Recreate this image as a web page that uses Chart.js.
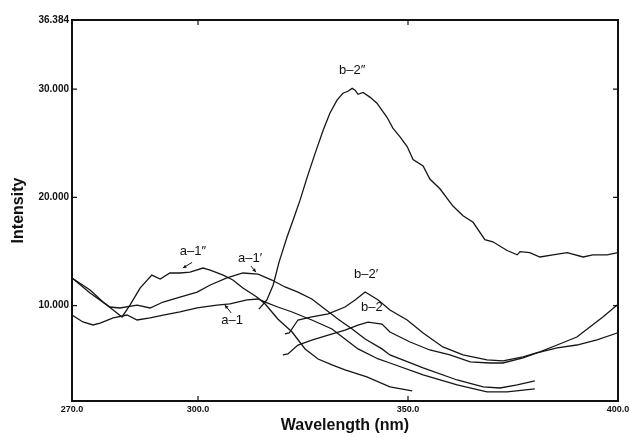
<!DOCTYPE html>
<html>
<head>
<meta charset="utf-8">
<script src="https://cdn.jsdelivr.net/npm/chart.js@4/dist/chart.umd.min.js"></script>
<style>
  html, body { margin: 0; padding: 0; background: #fff; }
  #wrap { width: 629px; height: 437px; }
</style>
</head>
<body>
<div id="wrap"><canvas id="spec"></canvas></div>
<script>
// axis limits and tick labels
const xMin = 270, xMax = 400;
const yMin = 1.2, yMax = 36.384;
const xTicks = [270, 300, 350, 400];
const yTicks = [10, 20, 30, 36.384];

// spectra (wavelength nm / intensity)
const a1Wl = [270, 272.6, 275.0, 276.7, 279.8, 283.1, 285.5, 288.6, 291.7, 295.7, 299.8, 304.5, 307.6, 311.7, 314.3, 316.0, 319.0, 322.4, 327.1, 331.9, 335.0, 338.1, 342.9, 345.7, 353.6, 361.7, 368.8, 373.6, 380.2];
const a1Int = [9.14, 8.50, 8.22, 8.40, 8.87, 9.14, 8.68, 8.87, 9.14, 9.42, 9.79, 10.06, 10.16, 10.53, 10.62, 10.34, 9.88, 9.42, 8.68, 7.85, 6.93, 6.01, 5.08, 4.71, 3.61, 2.69, 2.04, 2.04, 2.32];

const a1pWl = [270, 274.3, 279.0, 281.4, 285.5, 288.6, 291.7, 295.7, 299.8, 302.9, 306.9, 310.7, 314.3, 317.6, 320.7, 323.8, 327.1, 330.2, 333.3, 336.7, 339.8, 343.8, 345.7, 353.6, 361.7, 367.9, 371.9, 376.0, 380.2];
const a1pInt = [12.56, 11.17, 9.88, 9.79, 10.06, 9.79, 10.34, 10.80, 11.26, 11.91, 12.56, 13.02, 12.92, 12.37, 11.73, 11.26, 10.62, 9.69, 8.77, 7.85, 6.93, 6.01, 5.45, 4.25, 3.14, 2.50, 2.40, 2.68, 3.05];

const a1ppWl = [270, 274.3, 277.4, 280.7, 281.9, 283.8, 286.2, 289.0, 291.0, 293.3, 295.7, 298.1, 301.2, 302.9, 306.0, 308.3, 310.7, 314.0, 316.0, 319.0, 322.4, 325.5, 328.6, 331.9, 335.0, 340.2, 345.7, 351.0];
const a1ppInt = [12.56, 11.45, 10.34, 9.33, 8.96, 10.06, 11.63, 12.83, 12.46, 13.02, 13.02, 13.11, 13.48, 13.29, 12.83, 12.37, 11.63, 10.80, 10.16, 8.77, 7.57, 6.01, 5.08, 4.53, 4.07, 3.42, 2.50, 2.13];

const b2Wl = [320.2, 321.4, 323.8, 327.1, 331.0, 335.0, 338.1, 340.5, 343.8, 345.7, 350.5, 355.2, 360.0, 364.8, 369.5, 372.6, 377.4, 380.7, 385.5, 390.2, 395.0, 399.8];
const b2Int = [5.45, 5.54, 6.37, 6.83, 7.29, 7.75, 8.21, 8.49, 8.31, 7.57, 6.65, 5.91, 5.45, 4.81, 4.71, 4.71, 5.18, 5.64, 6.10, 6.37, 6.84, 7.48];

const b2pWl = [320.7, 321.7, 323.8, 327.1, 331.0, 335.0, 337.4, 339.8, 342.9, 345.7, 349.8, 353.6, 358.3, 363.1, 368.8, 372.6, 377.4, 381.4, 385.5, 390.2, 393.3, 396.4, 399.8];
const b2pInt = [7.39, 7.48, 8.68, 8.96, 9.24, 9.88, 10.53, 11.26, 10.53, 9.60, 8.68, 7.48, 6.19, 5.45, 4.99, 4.90, 5.27, 5.73, 6.37, 7.11, 8.03, 8.96, 10.06];

const b2ppWl = [314.5, 316.4, 317.9, 319.3, 321.2, 322.9, 324.3, 326.0, 327.9, 329.8, 331.4, 333.1, 334.5, 335.7, 336.7, 337.4, 338.1, 339.3, 341.0, 342.6, 345.0, 346.4, 348.1, 349.8, 351.2, 353.6, 355.2, 357.6, 360.7, 363.1, 365.5, 368.3, 370.2, 373.6, 376.0, 376.7, 379.0, 381.4, 384.5, 387.9, 391.7, 394.0, 397.4, 400.0];
const b2ppInt = [9.69, 10.53, 11.91, 14.03, 16.34, 18.19, 19.75, 21.87, 24.09, 26.21, 27.78, 28.98, 29.62, 29.80, 30.07, 29.90, 29.52, 29.70, 29.24, 28.70, 27.40, 26.40, 25.60, 24.70, 23.50, 22.90, 21.70, 20.80, 19.20, 18.30, 17.70, 16.10, 15.90, 15.10, 14.70, 15.00, 14.90, 14.50, 14.70, 14.90, 14.50, 14.70, 14.70, 14.90];

// curve labels (text, wavelength, intensity) and small arrows
const labelText = ['a\u20131\u2033', 'a\u20131\u2032', 'a\u20131', 'b\u20132\u2033', 'b\u20132\u2032', 'b\u20132'];
const labelX = [298.8, 312.4, 308.1, 336.7, 340.0, 341.4];
const labelY = [15.05, 14.4, 8.6, 31.74, 12.93, 9.87];
const arrowFrom = [[298.6, 14.0], [312.6, 13.66], [307.9, 9.33]];
const arrowTo = [[296.4, 13.48], [313.8, 13.1], [306.4, 10.06]];

function toPoints(xs, ys) {
  return xs.map((x, i) => ({ x: x, y: ys[i] }));
}

function spectrum(name, xs, ys) {
  return {
    label: name,
    data: toPoints(xs, ys),
    showLine: true,
    borderColor: '#161616',
    borderWidth: 1.3,
    pointRadius: 0,
    tension: 0,
    fill: false
  };
}

// frame round the plot and the little inward ticks
const frameTicks = {
  id: 'frameTicks',
  afterDraw(chart) {
    const { ctx, chartArea: a, scales } = chart;
    ctx.save();
    ctx.strokeStyle = '#111';
    ctx.lineWidth = 2;
    ctx.strokeRect(a.left, a.top, a.right - a.left, a.bottom - a.top);
    ctx.lineWidth = 1.2;
    ctx.beginPath();
    xTicks.slice(1, -1).forEach(v => {
      const px = scales.x.getPixelForValue(v);
      ctx.moveTo(px, a.bottom); ctx.lineTo(px, a.bottom - 5);
      ctx.moveTo(px, a.top); ctx.lineTo(px, a.top + 5);
    });
    yTicks.slice(0, -1).forEach(v => {
      const py = scales.y.getPixelForValue(v);
      ctx.moveTo(a.left, py); ctx.lineTo(a.left + 5, py);
      ctx.moveTo(a.right, py); ctx.lineTo(a.right - 5, py);
    });
    ctx.stroke();
    ctx.restore();
  }
};

const curveLabels = {
  id: 'curveLabels',
  afterDatasetsDraw(chart) {
    const { ctx, scales } = chart;
    ctx.save();
    ctx.fillStyle = '#111';
    ctx.font = '13px "Liberation Sans", Arial, sans-serif';
    ctx.textAlign = 'center';
    ctx.textBaseline = 'middle';
    labelText.forEach((t, i) => {
      ctx.fillText(t, scales.x.getPixelForValue(labelX[i]), scales.y.getPixelForValue(labelY[i]));
    });
    ctx.strokeStyle = '#111';
    ctx.lineWidth = 1;
    arrowFrom.forEach((f, i) => {
      const x0 = scales.x.getPixelForValue(f[0]), y0 = scales.y.getPixelForValue(f[1]);
      const x1 = scales.x.getPixelForValue(arrowTo[i][0]), y1 = scales.y.getPixelForValue(arrowTo[i][1]);
      const ang = Math.atan2(y1 - y0, x1 - x0);
      ctx.beginPath();
      ctx.moveTo(x0, y0); ctx.lineTo(x1, y1);
      ctx.stroke();
      ctx.beginPath();
      ctx.moveTo(x1, y1);
      ctx.lineTo(x1 - 4 * Math.cos(ang - 0.45), y1 - 4 * Math.sin(ang - 0.45));
      ctx.lineTo(x1 - 4 * Math.cos(ang + 0.45), y1 - 4 * Math.sin(ang + 0.45));
      ctx.closePath();
      ctx.fill();
    });
    ctx.restore();
  }
};

const tickFont = { family: '"Liberation Sans", Arial, sans-serif', weight: 'bold' };

new Chart(document.getElementById('spec'), {
  type: 'scatter',
  data: {
    datasets: [
      spectrum('a-1', a1Wl, a1Int),
      spectrum("a-1'", a1pWl, a1pInt),
      spectrum("a-1''", a1ppWl, a1ppInt),
      spectrum('b-2', b2Wl, b2Int),
      spectrum("b-2'", b2pWl, b2pInt),
      spectrum("b-2''", b2ppWl, b2ppInt)
    ]
  },
  options: {
    responsive: true,
    maintainAspectRatio: false,
    animation: false,
    layout: { padding: { top: 20, right: 11, left: 0, bottom: 0 } },
    plugins: {
      legend: { display: false },
      tooltip: { enabled: false }
    },
    scales: {
      x: {
        type: 'linear',
        min: xMin,
        max: xMax,
        afterBuildTicks: s => { s.ticks = xTicks.map(v => ({ value: v })); },
        afterFit: s => { s.height = 36; s.paddingRight = 0; s.paddingLeft = 0; },
        grid: { display: false, drawTicks: false },
        border: { display: false },
        ticks: {
          autoSkip: false,
          maxRotation: 0,
          padding: 3,
          color: '#111',
          font: { ...tickFont, size: 9 },
          callback: v => Number(v).toFixed(1)
        },
        title: {
          display: true,
          text: 'Wavelength (nm)',
          color: '#111',
          font: { ...tickFont, size: 16 },
          padding: { top: 0, bottom: 2 }
        }
      },
      y: {
        min: yMin,
        max: yMax,
        afterBuildTicks: s => { s.ticks = yTicks.map(v => ({ value: v })); },
        afterFit: s => { s.width = 72; },
        grid: { display: false, drawTicks: false },
        border: { display: false },
        ticks: {
          padding: 3,
          color: '#111',
          font: { ...tickFont, size: 10 },
          callback: v => Number(v).toFixed(3)
        },
        title: {
          display: true,
          text: 'Intensity',
          color: '#111',
          font: { ...tickFont, size: 16 },
          padding: { top: 9, bottom: 0 }
        }
      }
    }
  },
  plugins: [frameTicks, curveLabels]
});
</script>
</body>
</html>
